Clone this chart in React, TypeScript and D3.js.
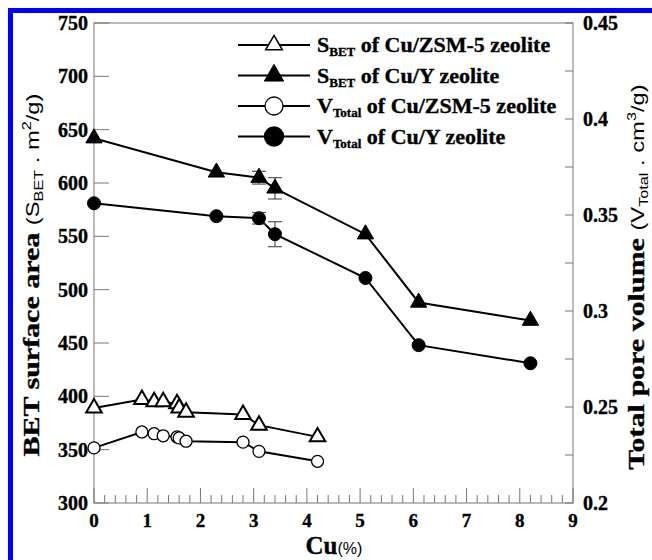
import React, { useRef, useEffect } from 'react';
import * as d3 from 'd3';

// Cu loading (%) for each sample
const cuZsm = [0, 0.9, 1.13, 1.3, 1.56, 1.6, 1.73, 2.8, 3.1, 4.2];
const cuY = [0, 2.3, 3.1, 3.4, 5.1, 6.1, 8.2];

// BET surface area (m2/g), left axis
const sbetZsm = [389, 397, 395, 395, 393, 389, 385, 383, 373, 362];
const sbetY = [642, 610, 605, 595, 552, 488, 471];
const sbetYErr = [0, 0, 6, 10, 0, 0, 0];

// total pore volume (cm3/g), right axis
const vZsm = [0.2287, 0.237, 0.2361, 0.235, 0.2344, 0.2339, 0.2322, 0.2317, 0.2269, 0.2217];
const vY = [0.3561, 0.3494, 0.3483, 0.34, 0.3172, 0.2822, 0.2728];
const vYErr = [0, 0, 0.003, 0.0065, 0, 0, 0];

const xTicks = [0, 1, 2, 3, 4, 5, 6, 7, 8, 9];
const leftTicks = [300, 350, 400, 450, 500, 550, 600, 650, 700, 750];
const rightTicks = [0.2, 0.25, 0.3, 0.35, 0.4, 0.45];

const legendItems = [
  { main: 'S', sub: 'BET', rest: ' of Cu/ZSM-5 zeolite', shape: 'tri', filled: false },
  { main: 'S', sub: 'BET', rest: ' of Cu/Y zeolite', shape: 'tri', filled: true },
  { main: 'V', sub: 'Total', rest: ' of Cu/ZSM-5 zeolite', shape: 'circle', filled: false },
  { main: 'V', sub: 'Total', rest: ' of Cu/Y zeolite', shape: 'circle', filled: true },
];

const SERIF = '"Liberation Serif", "Times New Roman", serif';
const SANS = '"Liberation Sans", Arial, sans-serif';

const App = () => {
  const ref = useRef(null);

  useEffect(() => {
    const svg = d3.select(ref.current);
    svg.selectAll('*').remove();

    const x = d3.scaleLinear().domain([0, 9]).range([94, 573]);
    const yL = d3.scaleLinear().domain([300, 750]).range([503, 23]);
    const yR = d3.scaleLinear().domain([0.2, 0.45]).range([503, 23]);

    // blue frame
    svg.append('rect')
      .attr('x', 10.5).attr('y', 10.5)
      .attr('width', 800).attr('height', 800)
      .attr('fill', 'none').attr('stroke', '#0000ff').attr('stroke-width', 5);

    const axisColor = '#777';

    // plot frame
    svg.append('rect')
      .attr('x', x(0)).attr('y', yL(750))
      .attr('width', x(9) - x(0)).attr('height', yL(300) - yL(750))
      .attr('fill', 'none').attr('stroke', axisColor).attr('stroke-width', 1);

    // bottom ticks (major + minor)
    const minor = d3.range(0, 9.001, 0.2);
    svg.append('g').selectAll('line').data(minor).join('line')
      .attr('x1', d => x(d)).attr('x2', d => x(d))
      .attr('y1', yL(300))
      .attr('y2', d => yL(300) - (Math.abs(d - Math.round(d)) < 1e-6 ? 15 : 8))
      .attr('stroke', axisColor);

    const boldSerif = (sel, size) => sel
      .attr('font-family', SERIF).attr('font-weight', 'bold').attr('font-size', size)
      .attr('stroke', '#000').attr('stroke-width', 0.35);

    boldSerif(svg.append('g').selectAll('text').data(xTicks).join('text')
      .attr('x', d => x(d)).attr('y', 527)
      .attr('text-anchor', 'middle'), 19)
      .text(d => d);

    // left ticks
    svg.append('g').selectAll('line').data(leftTicks).join('line')
      .attr('x1', x(0)).attr('x2', x(0) + 15)
      .attr('y1', d => yL(d)).attr('y2', d => yL(d))
      .attr('stroke', axisColor);

    boldSerif(svg.append('g').selectAll('text').data(leftTicks).join('text')
      .attr('x', 88).attr('y', d => yL(d) + 7)
      .attr('text-anchor', 'end'), 20)
      .text(d => d);

    // right ticks
    const rightMinor = d3.range(0.2, 0.4501, 0.025);
    svg.append('g').selectAll('line').data(rightMinor).join('line')
      .attr('x1', x(9)).attr('x2', x(9) - 8)
      .attr('y1', d => yR(d)).attr('y2', d => yR(d))
      .attr('stroke', axisColor);

    boldSerif(svg.append('g').selectAll('text').data(rightTicks).join('text')
      .attr('x', 583).attr('y', d => yR(d) + 7)
      .attr('text-anchor', 'start'), 20)
      .text(d => d);

    // axis titles (stretched along the text direction like the source)
    const addTitle = (tx, ty, main, sub, unit, sup) => {
      const t = svg.append('text')
        .attr('transform', `translate(${tx},${ty}) rotate(-90) scale(1.25,1)`)
        .attr('text-anchor', 'middle');
      boldSerif(t.append('tspan'), 24).text(main);
      t.append('tspan').attr('font-family', SANS).attr('font-size', 19).text('(' + sub[0]);
      t.append('tspan').attr('font-family', SANS).attr('font-size', 13).attr('dy', 4).text(sub.slice(1));
      t.append('tspan').attr('font-family', SANS).attr('font-size', 19).attr('dy', -4).text(unit);
      t.append('tspan').attr('font-family', SANS).attr('font-size', 13).attr('dy', -8).text(sup);
      t.append('tspan').attr('font-family', SANS).attr('font-size', 19).attr('dy', 8).text('/g)');
    };
    addTitle(39, 275, 'BET surface area ', 'SBET', ' . m', '2');
    addTitle(644, 277, 'Total pore volume ', 'VTotal', ' . cm', '3');

    const bottomTitle = svg.append('text')
      .attr('x', 334).attr('y', 554)
      .attr('text-anchor', 'middle');
    boldSerif(bottomTitle.append('tspan'), 25).text('Cu');
    bottomTitle.append('tspan').attr('font-family', SANS).attr('font-size', 16).text('(%)');

    const triangle = (size) => d3.symbol().type(d3.symbolTriangle).size(size)();

    const drawSeries = (xs, ys, yScale, err, shape, filled) => {
      const pts = xs.map((c, i) => [x(c), yScale(ys[i]), err ? err[i] : 0, ys[i]]);
      svg.append('path')
        .datum(pts)
        .attr('d', d3.line().x(d => d[0]).y(d => d[1]))
        .attr('fill', 'none').attr('stroke', '#000').attr('stroke-width', 2);

      // error bars
      const withErr = pts.filter(p => p[2] > 0);
      const eg = svg.append('g').attr('stroke', '#555').attr('stroke-width', 1.2);
      withErr.forEach(p => {
        const top = yScale(p[3] + p[2]);
        const bot = yScale(p[3] - p[2]);
        eg.append('line').attr('x1', p[0]).attr('x2', p[0]).attr('y1', top).attr('y2', bot);
        eg.append('line').attr('x1', p[0] - 7).attr('x2', p[0] + 7).attr('y1', top).attr('y2', top);
        eg.append('line').attr('x1', p[0] - 7).attr('x2', p[0] + 7).attr('y1', bot).attr('y2', bot);
      });

      const g = svg.append('g');
      if (shape === 'tri') {
        g.selectAll('path').data(pts).join('path')
          .attr('d', triangle(filled ? 115 : 105))
          .attr('transform', d => `translate(${d[0]},${d[1]})`)
          .attr('fill', filled ? '#000' : '#fff')
          .attr('stroke', '#000').attr('stroke-width', filled ? 1 : 2);
      } else {
        g.selectAll('circle').data(pts).join('circle')
          .attr('cx', d => d[0]).attr('cy', d => d[1])
          .attr('r', filled ? 6.5 : 6)
          .attr('fill', filled ? '#000' : '#fff')
          .attr('stroke', '#000').attr('stroke-width', filled ? 1 : 1.3);
      }
    };

    drawSeries(cuZsm, sbetZsm, yL, null, 'tri', false);
    drawSeries(cuZsm, vZsm, yR, null, 'circle', false);
    drawSeries(cuY, vY, yR, vYErr, 'circle', true);
    drawSeries(cuY, sbetY, yL, sbetYErr, 'tri', true);

    // legend
    const lg = svg.append('g');
    legendItems.forEach((item, i) => {
      const cy = 45 + i * 30.5;
      lg.append('line').attr('x1', 238).attr('x2', 310).attr('y1', cy).attr('y2', cy)
        .attr('stroke', '#000').attr('stroke-width', 2);
      if (item.shape === 'tri') {
        lg.append('path').attr('d', triangle(item.filled ? 160 : 120))
          .attr('transform', `translate(274,${cy})`)
          .attr('fill', item.filled ? '#000' : '#fff')
          .attr('stroke', '#000').attr('stroke-width', item.filled ? 1 : 1.5);
      } else {
        lg.append('circle').attr('cx', 274).attr('cy', cy).attr('r', item.filled ? 9.5 : 9)
          .attr('fill', item.filled ? '#000' : '#fff')
          .attr('stroke', '#000').attr('stroke-width', 1.3);
      }
      const t = lg.append('text').attr('x', 317).attr('y', cy + 7);
      boldSerif(t, 22);
      t.append('tspan').attr('font-size', 22).text(item.main);
      t.append('tspan').attr('font-size', 13).attr('dy', 4).text(item.sub);
      t.append('tspan').attr('font-size', 22).attr('dy', -4).text(item.rest);
    });
  }, []);

  return (
    <svg
      ref={ref}
      width={652}
      height={560}
      style={{ position: 'absolute', left: 0, top: 0, background: '#fff' }}
    />
  );
};

export default App;
